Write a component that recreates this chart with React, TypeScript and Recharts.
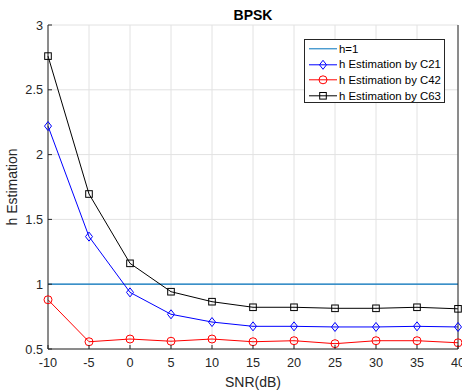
import React from 'react';
import { LineChart, Line, XAxis, YAxis, CartesianGrid, Legend } from 'recharts';

const snr = [-10, -5, 0, 5, 10, 15, 20, 25, 30, 35, 40];
const hTrue = [1, 1, 1, 1, 1, 1, 1, 1, 1, 1, 1];
const c21 = [2.22, 1.367, 0.937, 0.768, 0.708, 0.675, 0.675, 0.67, 0.67, 0.675, 0.67];
const c42 = [0.88, 0.556, 0.577, 0.56, 0.577, 0.556, 0.564, 0.541, 0.564, 0.564, 0.548];
const c63 = [2.76, 1.696, 1.161, 0.942, 0.865, 0.822, 0.822, 0.814, 0.814, 0.822, 0.81];
const xTicks = [-10, -5, 0, 5, 10, 15, 20, 25, 30, 35, 40];
const yTicks = [0.5, 1, 1.5, 2, 2.5, 3];
const seriesNames = ['h=1', 'h Estimation by C21', 'h Estimation by C42', 'h Estimation by C63'];
const titleText = 'BPSK';

const data = snr.map((s, i) => ({ snr: s, h1: hTrue[i], c21: c21[i], c42: c42[i], c63: c63[i] }));

const FONT = '"Liberation Sans", Arial, Helvetica, sans-serif';
const AX = '#262626';
const TICK_FS = 12.7;

const BottomTick = (p: any) => (
  <g>
    <line x1={p.x} x2={p.x} y1={p.y} y2={p.y - 4} stroke={AX} strokeWidth={1} />
    <text x={p.x} y={p.y + 18} textAnchor="middle" fontSize={TICK_FS} fill={AX} fontFamily={FONT}>
      {String(p.payload.value)}
    </text>
  </g>
);
const TopTick = (p: any) => (
  <line x1={p.x} x2={p.x} y1={p.y} y2={p.y + 4} stroke={AX} strokeWidth={1} />
);
const LeftTick = (p: any) => (
  <g>
    <line x1={p.x} x2={p.x + 4} y1={p.y} y2={p.y} stroke={AX} strokeWidth={1} />
    <text x={p.x - 5} y={p.y} dy="0.36em" textAnchor="end" fontSize={TICK_FS} fill={AX} fontFamily={FONT}>
      {String(p.payload.value)}
    </text>
  </g>
);
const RightTick = (p: any) => (
  <line x1={p.x} x2={p.x - 4} y1={p.y} y2={p.y} stroke={AX} strokeWidth={1} />
);

const Diamond = ({ cx, cy, color }: any) => (
  <path d={`M${cx},${cy - 4.5} L${cx + 3.5},${cy} L${cx},${cy + 4.5} L${cx - 3.5},${cy} Z`} fill="none" stroke={color} strokeWidth={1} />
);
const Circ = ({ cx, cy, color }: any) => <circle cx={cx} cy={cy} r={4} fill="none" stroke={color} strokeWidth={1} />;
const Sq = ({ cx, cy, color }: any) => (
  <rect x={cx - 3.3} y={cy - 3.3} width={6.6} height={6.6} fill="none" stroke={color} strokeWidth={1} />
);

const legendStyles = [
  { color: '#0072BD', marker: 'none' },
  { color: '#0000FF', marker: 'diamond' },
  { color: '#FF0000', marker: 'circle' },
  { color: '#000000', marker: 'square' },
];

const LegendBox = () => (
  <div
    style={{
      boxSizing: 'border-box',
      width: 141,
      height: 64,
      border: '1px solid #262626',
      background: '#fff',
      paddingTop: 1,
      fontFamily: FONT,
      fontSize: 11.4,
      color: '#000',
    }}
  >
    {seriesNames.map((n, i) => {
      const st = legendStyles[i];
      return (
        <div key={n} style={{ display: 'flex', alignItems: 'center', height: 15.6 }}>
          <svg width={34} height={15.6} style={{ display: 'block', flex: 'none' }}>
            <line x1={4} x2={32} y1={7.8} y2={7.8} stroke={st.color} strokeWidth={1} />
            {st.marker === 'diamond' && <Diamond cx={18} cy={7.8} color={st.color} />}
            {st.marker === 'circle' && <Circ cx={18} cy={7.8} color={st.color} />}
            {st.marker === 'square' && <Sq cx={18} cy={7.8} color={st.color} />}
          </svg>
          <span style={{ whiteSpace: 'nowrap' }}>{n}</span>
        </div>
      );
    })}
  </div>
);

export default function App() {
  return (
    <div style={{ position: 'absolute', left: 0, top: 0, width: 462, height: 390, background: '#fff' }}>
      <div
        style={{
          position: 'absolute',
          left: 48,
          width: 410,
          top: 8,
          textAlign: 'center',
          fontFamily: FONT,
          fontSize: 14,
          lineHeight: '14px',
          fontWeight: 'bold',
          color: '#000',
          zIndex: 2,
        }}
      >
        {titleText}
      </div>
      <LineChart width={462} height={390} data={data} margin={{ top: 25, right: 0, bottom: 0, left: 0 }}>
        <CartesianGrid xAxisId="b" yAxisId="l" stroke="#e2e2e2" strokeWidth={1} />
        <XAxis
          xAxisId="b"
          dataKey="snr"
          type="number"
          domain={[-10, 40]}
          ticks={xTicks}
          height={41}
          tickSize={0}
          tickMargin={0}
          tickLine={false}
          axisLine={{ stroke: AX, strokeWidth: 1 }}
          tick={<BottomTick />}
          interval={0}
          label={{ value: 'SNR(dB)', position: 'insideBottom', offset: 3, style: { fontSize: 14, fill: AX, fontFamily: FONT } }}
        />
        <XAxis
          xAxisId="t"
          orientation="top"
          dataKey="snr"
          type="number"
          domain={[-10, 40]}
          ticks={xTicks}
          height={0}
          tickSize={0}
          tickMargin={0}
          tickLine={false}
          axisLine={{ stroke: AX, strokeWidth: 1 }}
          tick={<TopTick />}
          interval={0}
        />
        <YAxis
          yAxisId="l"
          type="number"
          domain={[0.5, 3]}
          ticks={yTicks}
          width={48}
          tickSize={0}
          tickMargin={0}
          tickLine={false}
          axisLine={{ stroke: AX, strokeWidth: 1 }}
          tick={<LeftTick />}
          interval={0}
          label={{ value: 'h Estimation', angle: -90, position: 'insideLeft', offset: 12, style: { textAnchor: 'middle', fontSize: 14, fill: AX, fontFamily: FONT } }}
        />
        <YAxis
          yAxisId="r"
          orientation="right"
          type="number"
          domain={[0.5, 3]}
          ticks={yTicks}
          width={4}
          tickSize={0}
          tickMargin={0}
          tickLine={false}
          axisLine={{ stroke: AX, strokeWidth: 1 }}
          tick={<RightTick />}
          interval={0}
        />
        <Line xAxisId="b" yAxisId="l" dataKey="h1" name={seriesNames[0]} stroke="#0072BD" strokeWidth={1.2} dot={false} isAnimationActive={false} />
        <Line
          xAxisId="b"
          yAxisId="l"
          dataKey="c21"
          name={seriesNames[1]}
          stroke="#0000FF"
          strokeWidth={1}
          dot={(p: any) => <Diamond key={`d${p.index}`} cx={p.cx} cy={p.cy} color="#0000FF" />}
          isAnimationActive={false}
        />
        <Line
          xAxisId="b"
          yAxisId="l"
          dataKey="c42"
          name={seriesNames[2]}
          stroke="#FF0000"
          strokeWidth={1}
          dot={(p: any) => <Circ key={`c${p.index}`} cx={p.cx} cy={p.cy} color="#FF0000" />}
          isAnimationActive={false}
        />
        <Line
          xAxisId="b"
          yAxisId="l"
          dataKey="c63"
          name={seriesNames[3]}
          stroke="#000000"
          strokeWidth={1}
          dot={(p: any) => <Sq key={`s${p.index}`} cx={p.cx} cy={p.cy} color="#000000" />}
          isAnimationActive={false}
        />
        <Legend
          layout="vertical"
          align="center"
          verticalAlign="middle"
          content={() => <LegendBox />}
          wrapperStyle={{ left: 304, top: 39, width: 141, height: 64 }}
        />
      </LineChart>
    </div>
  );
}
